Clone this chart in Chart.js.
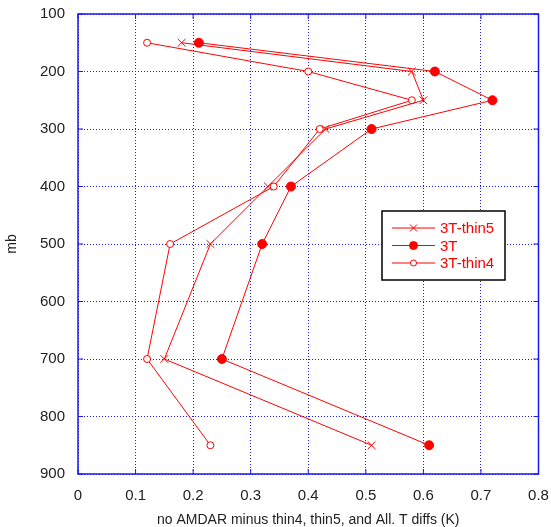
<!DOCTYPE html>
<html>
<head>
<meta charset="utf-8">
<script src="https://cdn.jsdelivr.net/npm/chart.js@4.4.0/dist/chart.umd.min.js"></script>
<style>
  html, body { margin: 0; padding: 0; background: #fff; }
  #wrap { width: 551px; height: 527px; }
</style>
</head>
<body>
<div id="wrap"><canvas id="chart" width="551" height="527"></canvas></div>
<script>
// pressure levels (mb) and the three diff profiles (K)
const pressureLevels = [150, 200, 250, 300, 400, 500, 700, 850];
const thin5Diffs = [0.18, 0.58, 0.60, 0.43, 0.33, 0.23, 0.15, 0.51];
const allTDiffs  = [0.21, 0.62, 0.72, 0.51, 0.37, 0.32, 0.25, 0.61];
const thin4Diffs = [0.12, 0.40, 0.58, 0.42, 0.34, 0.16, 0.12, 0.23];
const seriesNames = ['3T-thin5', '3T', '3T-thin4'];

const xTickValues = [0, 0.1, 0.2, 0.3, 0.4, 0.5, 0.6, 0.7, 0.8];
const yTickValues = [100, 200, 300, 400, 500, 600, 700, 800, 900];

const RED = '#ff0000';
const BLUE = '#1a1aee';
const FONT = '"Liberation Sans", Arial, sans-serif';

const toPoints = (vals) => vals.map((v, i) => ({ x: v, y: pressureLevels[i] }));

// frame around the plot, with short inward ticks
const framePlugin = {
  id: 'frame',
  beforeDatasetsDraw(chart) {
    const { ctx, chartArea: a, scales } = chart;
    ctx.save();
    ctx.strokeStyle = BLUE;
    ctx.lineWidth = 1.5;
    ctx.strokeRect(a.left, a.top, a.right - a.left, a.bottom - a.top);
    ctx.lineWidth = 1;
    ctx.beginPath();
    xTickValues.forEach((v) => {
      const px = scales.x.getPixelForValue(v);
      ctx.moveTo(px, a.bottom); ctx.lineTo(px, a.bottom - 5);
      ctx.moveTo(px, a.top); ctx.lineTo(px, a.top + 5);
    });
    yTickValues.forEach((v) => {
      const py = scales.y.getPixelForValue(v);
      ctx.moveTo(a.left, py); ctx.lineTo(a.left + 5, py);
      ctx.moveTo(a.right, py); ctx.lineTo(a.right - 5, py);
    });
    ctx.stroke();
    ctx.restore();
  }
};

// boxed legend inside the plot
const boxLegendPlugin = {
  id: 'boxLegend',
  afterDraw(chart) {
    const { ctx, chartArea: a } = chart;
    const x0 = a.left + 304, y0 = a.top + 197, w = 123, h = 69;
    ctx.save();
    ctx.fillStyle = '#fff';
    ctx.fillRect(x0, y0, w, h);
    ctx.strokeStyle = '#000';
    ctx.lineWidth = 1.5;
    ctx.strokeRect(x0, y0, w, h);
    chart.data.datasets.forEach((ds, i) => {
      const y = y0 + 17 + i * 17.5;
      ctx.strokeStyle = RED;
      ctx.lineWidth = 1;
      ctx.beginPath();
      ctx.moveTo(x0 + 10, y); ctx.lineTo(x0 + 53, y);
      ctx.stroke();
      if (ds.pointStyle === 'circle') {
        ctx.fillStyle = ds.pointBackgroundColor;
        ctx.beginPath();
        ctx.arc(x0 + 31.5, y, ds.legendRadius, 0, Math.PI * 2);
        ctx.fill(); ctx.stroke();
      } else {
        Chart.helpers.drawPoint(ctx, {
          pointStyle: ds.pointStyle,
          radius: ds.legendRadius,
          borderWidth: 1
        }, x0 + 31.5, y);
      }
      ctx.fillStyle = RED;
      ctx.font = '15px ' + FONT;
      ctx.textBaseline = 'middle';
      ctx.fillText(ds.label, x0 + 58, y + 1);
    });
    ctx.restore();
  }
};

new Chart(document.getElementById('chart'), {
  type: 'scatter',
  data: {
    datasets: [
      {
        label: seriesNames[0],
        data: toPoints(thin5Diffs),
        showLine: true,
        borderColor: RED,
        borderWidth: 1,
        pointStyle: 'crossRot',
        pointRadius: 5.5,
        pointBorderColor: RED,
        pointBackgroundColor: RED,
        pointBorderWidth: 1,
        legendRadius: 5
      },
      {
        label: seriesNames[1],
        data: toPoints(allTDiffs),
        showLine: true,
        borderColor: RED,
        borderWidth: 1,
        pointStyle: 'circle',
        pointRadius: 4.5,
        pointBorderColor: RED,
        pointBackgroundColor: RED,
        pointBorderWidth: 1,
        legendRadius: 4
      },
      {
        label: seriesNames[2],
        data: toPoints(thin4Diffs),
        showLine: true,
        borderColor: RED,
        borderWidth: 1,
        pointStyle: 'circle',
        pointRadius: 3.5,
        pointBorderColor: RED,
        pointBackgroundColor: '#fff',
        pointBorderWidth: 1,
        legendRadius: 3
      }
    ]
  },
  options: {
    responsive: false,
    animation: false,
    layout: { padding: { top: 14, right: 12.5, left: 0, bottom: 0 } },
    plugins: {
      legend: { display: false },
      tooltip: { enabled: false }
    },
    scales: {
      x: {
        type: 'linear',
        min: 0,
        max: 0.8,
        afterFit: (scale) => {
          scale.height = 53;
          scale.paddingLeft = 0;
          scale.paddingRight = 0;
        },
        afterBuildTicks: (scale) => { scale.ticks = xTickValues.map((v) => ({ value: v })); },
        ticks: {
          padding: 13,
          color: '#222',
          font: { family: FONT, size: 15 },
          callback: (v) => String(v)
        },
        grid: { color: BLUE, lineWidth: 1, drawTicks: false },
        border: { display: false, dash: [1, 2] },
        title: {
          display: true,
          text: 'no AMDAR minus thin4, thin5, and All. T diffs (K)',
          color: '#222',
          font: { family: FONT, size: 14 },
          padding: { top: 0, bottom: -2 }
        }
      },
      y: {
        type: 'linear',
        reverse: true,
        min: 100,
        max: 900,
        afterFit: (scale) => {
          scale.width = 78;
          scale.paddingTop = 0;
          scale.paddingBottom = 0;
        },
        afterBuildTicks: (scale) => { scale.ticks = yTickValues.map((v) => ({ value: v })); },
        ticks: {
          padding: 13,
          color: '#222',
          font: { family: FONT, size: 15 }
        },
        grid: { color: BLUE, lineWidth: 1, drawTicks: false },
        border: { display: false, dash: [1, 2] },
        title: {
          display: true,
          text: 'mb',
          color: '#222',
          font: { family: FONT, size: 14 },
          padding: { top: 4, bottom: 0 }
        }
      }
    }
  },
  plugins: [framePlugin, boxLegendPlugin]
});
</script>
</body>
</html>
